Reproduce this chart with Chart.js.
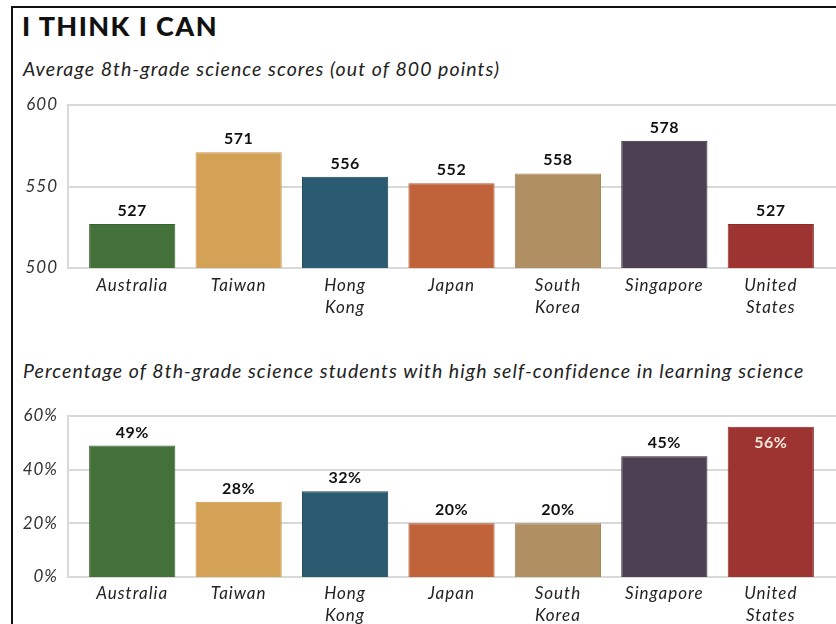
<!DOCTYPE html>
<html><head><meta charset="utf-8">
<script src="https://cdn.jsdelivr.net/npm/chart.js@4.4.1/dist/chart.umd.min.js"></script>
<style>
html,body{margin:0;padding:0;background:#fff;}
#wrap{position:relative;width:836px;height:624px;overflow:hidden;font-family:Lato,sans-serif;background:#fff;}
#frame{position:absolute;left:11px;top:6px;width:900px;height:700px;border-left:2px solid #111;border-top:2px solid #111;}
#title{position:absolute;left:22px;top:9px;font-weight:900;font-size:27px;color:#111;white-space:nowrap;}
.sub{position:absolute;left:23px;font-style:italic;font-size:19.5px;color:#222;white-space:nowrap;}
#c1wrap{position:absolute;left:0;top:73px;width:836px;height:257px;}
#c2wrap{position:absolute;left:0;top:384px;width:836px;height:240px;}
canvas{display:block;}
</style></head>
<body>
<div id="wrap">
  <div id="frame"></div>
  <div id="title" data-w="196">I THINK I CAN</div>
  <div class="sub" id="sub1" data-w="477" style="top:57px">Average 8th-grade science scores (out of 800 points)</div>
  <div class="sub" id="sub2" data-w="781" style="top:359px">Percentage of 8th-grade science students with high self-confidence in learning science</div>
  <div id="c1wrap"><canvas id="c1" width="836" height="257"></canvas></div>
  <div id="c2wrap"><canvas id="c2" width="836" height="240"></canvas></div>
</div>
<script>
const countries = [["Australia"], ["Taiwan"], ["Hong", "Kong"], ["Japan"], ["South", "Korea"], ["Singapore"], ["United", "States"]];
const scores = [527, 571, 556, 552, 558, 578, 527];
const confidence = [49, 28, 32, 20, 20, 45, 56];
const scoreTicks = [500, 550, 600];
const confTicks = [0, 20, 40, 60];
const barColors = ["#44703a", "#d4a256", "#2b5b70", "#c0633a", "#b08f62", "#4e4053", "#9d3431"];
const barBorders = ["#3a6131", "#c8964a", "#1f4859", "#b55a33", "#a48456", "#2f2633", "#8e2c2a"];

// stretch heading text to the reference widths
document.querySelectorAll('[data-w]').forEach(el => {
  const target = +el.dataset.w;
  const w = el.getBoundingClientRect().width;
  const n = el.textContent.length;
  el.style.letterSpacing = ((target - w) / n) + 'px';
});

const spacing = {
  id: 'spacing',
  beforeDraw(chart) { chart.ctx.letterSpacing = '1px'; }
};

const extGrid = {
  id: 'extGrid',
  beforeDatasetsDraw(chart) {
    const {ctx, scales: {y}, chartArea} = chart;
    const left = chartArea.left - 11;
    ctx.save();
    ctx.strokeStyle = '#d9d9d9';
    ctx.lineWidth = 2;
    y.ticks.forEach(t => {
      const py = Math.round(y.getPixelForValue(t.value));
      ctx.beginPath(); ctx.moveTo(left, py); ctx.lineTo(chart.width, py); ctx.stroke();
    });
    ctx.beginPath(); ctx.moveTo(left, y.top - 1); ctx.lineTo(left, y.bottom + 1); ctx.stroke();
    ctx.restore();
  }
};

function labelPlugin(fmt, insideIdx) {
  return {
    id: 'vals',
    afterDatasetsDraw(chart) {
      const ctx = chart.ctx;
      const meta = chart.getDatasetMeta(0);
      const data = chart.data.datasets[0].data;
      ctx.save();
      ctx.letterSpacing = '0.5px';
      ctx.font = 'bold 16px Lato, sans-serif';
      ctx.textAlign = 'center';
      ctx.textBaseline = 'alphabetic';
      meta.data.forEach((bar, i) => {
        const txt = fmt(data[i]);
        if (i === insideIdx) {
          ctx.fillStyle = '#f3e6da';
          ctx.fillText(txt, bar.x, bar.y + 21);
        } else {
          ctx.fillStyle = '#111';
          ctx.fillText(txt, bar.x, bar.y - 8);
        }
      });
      ctx.restore();
    }
  };
}

function makeChart(id, values, ticks, fmt, insideIdx, padTop, xHeight, xPad) {
  return new Chart(document.getElementById(id), {
    type: 'bar',
    data: {
      labels: countries,
      datasets: [{
        data: values,
        backgroundColor: barColors,
        borderColor: barBorders,
        borderWidth: 1,
        categoryPercentage: 0.81,
        barPercentage: 1.0
      }]
    },
    options: {
      responsive: false,
      animation: false,
      events: [],
      layout: {padding: {top: padTop, right: 12, left: 0, bottom: 0}},
      plugins: {legend: {display: false}, tooltip: {enabled: false}},
      scales: {
        x: {
          grid: {display: false, drawTicks: false},
          border: {display: false},
          ticks: {
            padding: xPad,
            color: '#222',
            font: {family: 'Lato, sans-serif', style: 'italic', size: 17, lineHeight: 1.28},
            maxRotation: 0, autoSkip: false
          },
          afterFit(s) { s.height = xHeight; }
        },
        y: {
          min: ticks[0], max: ticks[ticks.length - 1],
          afterBuildTicks(s) { s.ticks = ticks.map(v => ({value: v})); },
          grid: {display: false, drawTicks: false},
          border: {display: false},
          ticks: {
            padding: 21,
            color: '#333',
            font: {family: 'Lato, sans-serif', style: 'italic', size: 17},
            callback: fmt
          },
          afterFit(s) { s.width = 79; }
        }
      }
    },
    plugins: [spacing, extGrid, labelPlugin(fmt, insideIdx)]
  });
}

makeChart('c1', scores, scoreTicks, v => String(v), -1, 32, 62, 7);
makeChart('c2', confidence, confTicks, v => v + '%', 6, 32, 47, 6);
</script>
</body></html>
